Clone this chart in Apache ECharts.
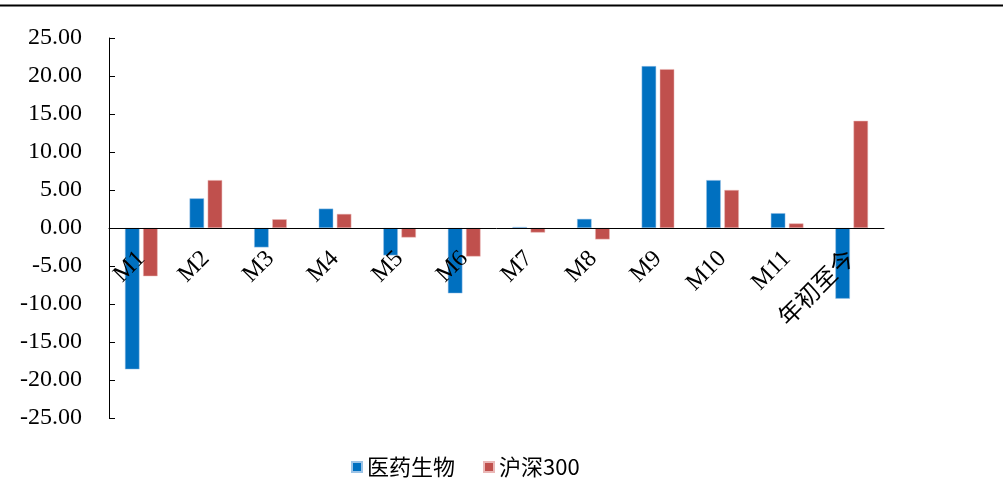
<!DOCTYPE html>
<html>
<head>
<meta charset="utf-8">
<script src="https://cdn.jsdelivr.net/npm/echarts@6/dist/echarts.min.js"></script>
<style>
html,body{margin:0;padding:0;background:#fff;}
#chart{width:1003px;height:499px;}
</style>
</head>
<body>
<div id="chart"></div>
<script>
var categories = ['M1','M2','M3','M4','M5','M6','M7','M8','M9','M10','M11','年初至今'];
var pharma = [-18.6, 3.9, -2.55, 2.55, -3.6, -8.6, 0.13, 1.2, 21.3, 6.3, 1.95, -9.3];
var hs300 = [-6.35, 6.3, 1.15, 1.85, -1.25, -3.75, -0.6, -1.5, 20.9, 5.0, 0.6, 14.1];
var seriesNames = ['医药生物', '沪深300'];
var yMin = -25, yMax = 25, yStep = 5;

var gridTop = 38, gridBottom = 81, H = 499;
var plotH = H - gridTop - gridBottom;
var zeroOffset = -plotH * (0 - yMin) / (yMax - yMin);

var serif = "'Liberation Serif', 'Times New Roman', 'Noto Sans CJK SC', serif";
var chart = echarts.init(document.getElementById('chart'), null, {renderer: 'canvas'});
chart.setOption({
  animation: false,
  backgroundColor: '#ffffff',
  graphic: [{
    type: 'line',
    shape: {x1: 0, y1: 5.5, x2: 1003, y2: 5.5},
    style: {stroke: '#000', lineWidth: 2}
  }],
  grid: {left: 109, right: 119, top: gridTop, bottom: gridBottom, containLabel: false, outerBoundsMode: 'none'},
  legend: {
    top: 451,
    left: 346,
    icon: 'rect',
    itemWidth: 10,
    itemHeight: 10,
    itemGap: 28,
    textStyle: {fontFamily: "'Noto Sans CJK SC', sans-serif", fontSize: 22, color: '#000'},
    data: seriesNames
  },
  xAxis: {
    type: 'category',
    data: categories,
    position: 'bottom',
    offset: zeroOffset,
    axisLine: {onZero: false, lineStyle: {color: '#000', width: 1}},
    axisTick: {show: false},
    axisLabel: {
      rotate: 45,
      margin: 27,
      interval: 0,
      fontFamily: serif,
      fontSize: 24,
      color: '#000'
    },
    splitLine: {show: false},
    z: 10
  },
  yAxis: {
    type: 'value',
    min: yMin,
    max: yMax,
    interval: yStep,
    axisLine: {show: true, lineStyle: {color: '#000', width: 1}},
    axisTick: {show: true, inside: true, length: 6, lineStyle: {color: '#000'}},
    axisLabel: {
      margin: 27,
      fontFamily: serif,
      fontSize: 24,
      color: '#000',
      formatter: function (v) { return v.toFixed(2); }
    },
    splitLine: {show: false}
  },
  series: [{
    name: seriesNames[0],
    type: 'bar',
    data: pharma,
    barWidth: 14.5,
    barGap: '25%',
    itemStyle: {color: '#0070C0', borderColor: '#9cc3e6', borderWidth: 0.5},
    z: 3
  }, {
    name: seriesNames[1],
    type: 'bar',
    data: hs300,
    barWidth: 14.5,
    barGap: '25%',
    itemStyle: {color: '#C0504D', borderColor: '#eab8b7', borderWidth: 0.5},
    z: 3
  }]
});
</script>
</body>
</html>
